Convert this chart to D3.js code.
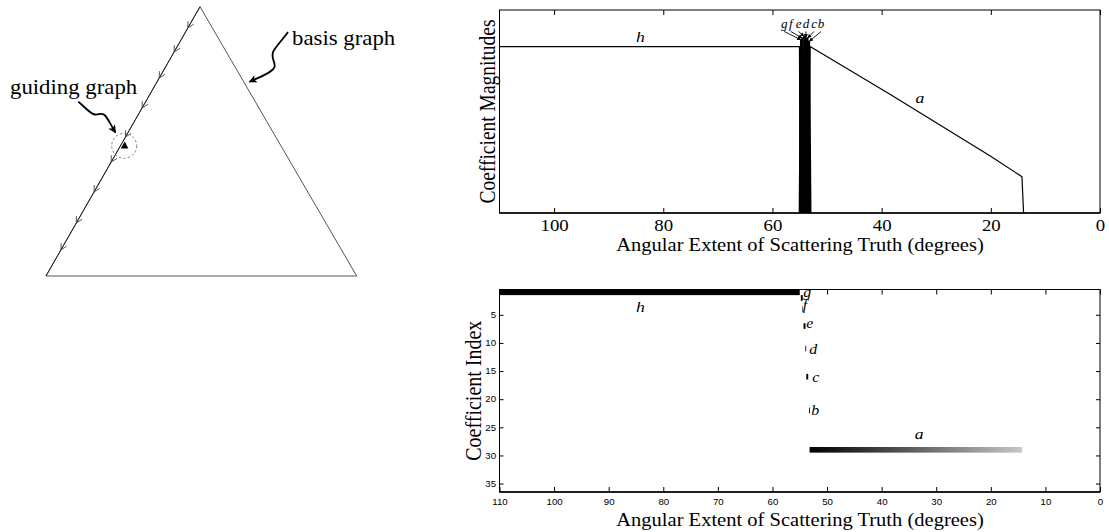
<!DOCTYPE html>
<html><head><meta charset="utf-8">
<script src="https://cdn.jsdelivr.net/npm/d3@7"></script>
<style>body{margin:0;background:#fff}svg{display:block}</style>
</head><body>
<svg id="c" width="1109" height="532"></svg>
<script>
// ---------------- DATA ----------------
const topXTicks = [100, 80, 60, 40, 20, 0];
const bottomXTicks = [110, 100, 90, 80, 70, 60, 50, 40, 30, 20, 10, 0];
const bottomYTicks = [5, 10, 15, 20, 25, 30, 35];

const coefNames = ['h', 'g', 'f', 'e', 'd', 'c', 'b', 'a'];
const coefIndex = [1, 2, 4, 7, 11, 16, 22, 29];

// magnitude curves: angle (deg) / magnitude
const hAngles = [110, 55.05, 54.95];  const hMags = [1.0, 1.0, 0];
const gAngles = [55.0, 54.75, 54.45]; const gMags = [0, 1.04, 0];
const fAngles = [54.8, 54.5, 54.2];   const fMags = [0, 1.05, 0];
const eAngles = [54.5, 54.15, 53.85]; const eMags = [0, 1.06, 0];
const dAngles = [54.2, 53.9, 53.6];   const dMags = [0, 1.05, 0];
const cAngles = [53.9, 53.6, 53.3];   const cMags = [0, 1.05, 0];
const bAngles = [53.55, 53.3, 53.05]; const bMags = [0, 1.03, 0];
const aAngles = [53.35, 53.1, 38.4, 20.1, 14.3, 14.0];
const aMags   = [0, 1.0, 0.712, 0.343, 0.218, 0];

// active angular extent in the coefficient-index image
const activeFrom  = [110, 54.8, 54.55, 54.3, 54.0, 53.8, 53.3, 53.2];
const activeTo    = [55.0, 54.45, 54.4, 53.95, 53.82, 53.45, 53.12, 14.3];
const activeShade = [1.0, 1.0, 0.7, 1.0, 0.85, 1.0, 0.85, null];

// label positions (data units)
const topLabelAngle = [84.2, 57.84, 56.65, 55.22, 53.85, 52.38, 51.1, 32.98];
const topLabelMag   = [1.03, 1.109, 1.109, 1.109, 1.109, 1.109, 1.109, 0.663];
const botLabelAngle = [84.2, 54.36, 54.45, 53.81, 53.26, 52.71, 52.89, 33.13];
const botLabelIndex = [4.5, 1.83, 4.14, 7.34, 11.88, 16.86, 22.81, 27.08];

// ---------------- DRAW ----------------
const SX = 1.14; // horizontal stretch of the original figure's text
const serif = "'Liberation Serif','Times New Roman',serif";
const sans = "'Liberation Sans',Arial,sans-serif";
const svg = d3.select('#c');
const grey = v => { const c = Math.round(255 * Math.max(0, Math.min(1, v))); return d3.rgb(c, c, c).toString(); };

function stext(g, x, y, str, opts) {
  const t = g.append('text')
    .attr('transform', `translate(${x},${y}) scale(${SX},1)` + (opts.rotate ? ` rotate(${opts.rotate})` : ''))
    .attr('font-family', opts.family || serif)
    .attr('font-size', opts.size)
    .attr('text-anchor', opts.anchor || 'start')
    .attr('fill', '#000')
    .text(str);
  if (opts.italic) t.attr('font-style', 'italic');
  return t;
}

// ---- defs
const defs = svg.append('defs');
defs.append('marker').attr('id', 'ah').attr('viewBox', '0 0 10 10')
  .attr('refX', 9).attr('refY', 5).attr('markerWidth', 10).attr('markerHeight', 8)
  .attr('markerUnits', 'userSpaceOnUse').attr('orient', 'auto')
  .append('path').attr('d', 'M0,0 L10,5 L0,10 L2.5,5 Z').attr('fill', '#000');
defs.append('marker').attr('id', 'sah').attr('viewBox', '0 0 10 10')
  .attr('refX', 9).attr('refY', 5).attr('markerWidth', 5).attr('markerHeight', 4)
  .attr('markerUnits', 'userSpaceOnUse').attr('orient', 'auto')
  .append('path').attr('d', 'M0,0 L10,5 L0,10 Z').attr('fill', '#000');

// ---- left schematic
const tri = [[200, 6.7], [46, 276], [356.7, 276]];
const chevronT = [0.079, 0.168, 0.265, 0.376, 0.484, 0.577, 0.688, 0.803, 0.903];
const diag = svg.append('g');
diag.append('path').attr('d', d3.line()(tri) + 'Z')
  .attr('fill', 'none').attr('stroke', '#555').attr('stroke-width', 1);
diag.append('line').attr('x1', tri[0][0]).attr('y1', tri[0][1]).attr('x2', tri[1][0]).attr('y2', tri[1][1])
  .attr('stroke', '#222').attr('stroke-width', 1);
{
  const dx = tri[1][0] - tri[0][0], dy = tri[1][1] - tri[0][1];
  const L = Math.hypot(dx, dy), ux = dx / L, uy = dy / L, nx = -uy, ny = ux;
  chevronT.forEach(t => {
    const px = tri[0][0] + dx * t, py = tri[0][1] + dy * t;
    diag.append('path')
      .attr('d', `M${px - 6 * ux + 3.2 * nx},${py - 6 * uy + 3.2 * ny} L${px},${py} L${px - 6 * ux - 3.2 * nx},${py - 6 * uy - 3.2 * ny}`)
      .attr('fill', 'none').attr('stroke', '#444').attr('stroke-width', 0.9);
  });
}
diag.append('circle').attr('cx', 124.2).attr('cy', 145.8).attr('r', 12.5)
  .attr('fill', 'none').attr('stroke', '#666').attr('stroke-width', 0.8).attr('stroke-dasharray', '2.5,2');
diag.append('path').attr('d', 'M120.7,148.5 L128.3,148.5 L124.8,141.5 Z').attr('fill', '#000');
diag.append('path')
  .attr('d', 'M78.3,101.7 C84,106 90,114 95,114.5 C99,115 101,112.5 104.5,115 C108,118 110,124 115.5,132.5')
  .attr('fill', 'none').attr('stroke', '#000').attr('stroke-width', 1.8).attr('marker-end', 'url(#ah)');
diag.append('path')
  .attr('d', 'M288,32 C284,38 277,45 273.5,51 C270,58 276,62 274.5,67 C273,72 262,76 249.5,81.8')
  .attr('fill', 'none').attr('stroke', '#000').attr('stroke-width', 1.8).attr('marker-end', 'url(#ah)');
stext(diag, 10, 94, 'guiding graph', { size: 20 });
stext(diag, 292, 45, 'basis graph', { size: 20 });

// ---- top chart
const xT = d3.scaleLinear().domain([110, 0]).range([499.5, 1100]);
const yT = d3.scaleLinear().domain([0, 1.22]).range([213, 10]);
const topG = svg.append('g');

const series = [
  [hAngles, hMags], [gAngles, gMags], [fAngles, fMags], [eAngles, eMags],
  [dAngles, dMags], [cAngles, cMags], [bAngles, bMags], [aAngles, aMags]
];
const line = d3.line().x(d => xT(d[0])).y(d => yT(d[1]));
series.forEach(([an, mg], i) => {
  const pts = an.map((a, k) => [a, mg[k]]);
  const isSpike = i >= 1 && i <= 6;
  topG.append('path').attr('d', line(pts))
    .attr('fill', 'none').attr('stroke', '#000').attr('stroke-width', isSpike ? 2.2 : 1.2)
    .attr('stroke-linejoin', 'round');
});

const axTB = topG.append('g').attr('transform', 'translate(0,213)')
  .call(d3.axisBottom(xT).tickValues(topXTicks).tickSize(-5).tickPadding(6));
const axTT = topG.append('g').attr('transform', 'translate(0,10)')
  .call(d3.axisTop(xT).tickValues(topXTicks).tickSize(-5).tickFormat(''));
[axTB, axTT].forEach(a => { a.select('.domain').remove(); a.selectAll('line').attr('stroke', '#000'); });
axTB.selectAll('text').attr('font-family', serif).attr('font-size', 16.5).attr('fill', '#000')
  .attr('transform', `scale(${SX},1)`);
topG.append('rect').attr('x', 499.5).attr('y', 10).attr('width', 600.5).attr('height', 203)
  .attr('fill', 'none').attr('stroke', '#000').attr('stroke-width', 1);
topG.append('line').attr('x1', 499.5).attr('x2', 1100).attr('y1', 213).attr('y2', 213)
  .attr('stroke', '#000').attr('stroke-width', 1.6);

// labels and arrows
coefNames.forEach((n, i) => {
  const small = i >= 1 && i <= 6;
  stext(topG, xT(topLabelAngle[i]), yT(topLabelMag[i]), n, { size: small ? 11.5 : 15.5, italic: true, anchor: 'middle' });
});
for (let i = 1; i <= 6; i++) {
  const [an, mg] = series[i];
  const pk = mg.indexOf(d3.max(mg));
  const x1 = xT(topLabelAngle[i]), y1 = yT(topLabelMag[i]) + 3;
  const x2 = xT(an[pk]), y2 = yT(mg[pk]);
  const L = Math.hypot(x2 - x1, y2 - y1);
  topG.append('line').attr('x1', x1).attr('y1', y1)
    .attr('x2', x2 - (x2 - x1) / L * 0.5).attr('y2', y2 - (y2 - y1) / L * 0.5)
    .attr('stroke', '#000').attr('stroke-width', 0.9).attr('marker-end', 'url(#sah)');
}
stext(topG, 800, 251, 'Angular Extent of Scattering Truth (degrees)', { size: 18, anchor: 'middle' });
stext(topG, 495, 111.5, 'Coefficient Magnitudes', { size: 19.5, anchor: 'middle', rotate: -90 });

// ---- bottom chart
const xB = d3.scaleLinear().domain([110, 0]).range([499.5, 1100]);
const yB = d3.scaleLinear().domain([0.5, 36.5]).range([289.5, 492]);
const botG = svg.append('g');

// gradient for coefficient a, built from its magnitude series
const ai = coefNames.indexOf('a');
const gx0 = xB(activeFrom[ai]), gx1 = xB(activeTo[ai]);
const grad = defs.append('linearGradient').attr('id', 'ga')
  .attr('gradientUnits', 'userSpaceOnUse').attr('x1', gx0).attr('x2', gx1).attr('y1', 0).attr('y2', 0);
aAngles.forEach((a, i) => {
  if (aMags[i] <= 0) return;
  const off = Math.max(0, Math.min(1, (xB(a) - gx0) / (gx1 - gx0)));
  grad.append('stop').attr('offset', off).attr('stop-color', grey(1 - aMags[i]));
});

coefNames.forEach((n, i) => {
  const r = coefIndex[i];
  const x0 = xB(activeFrom[i]), x1 = xB(activeTo[i]);
  const fill = activeShade[i] == null ? 'url(#ga)' : grey(1 - activeShade[i]);
  botG.append('rect').attr('x', x0).attr('width', x1 - x0)
    .attr('y', yB(r - 0.5)).attr('height', yB(r + 0.5) - yB(r - 0.5)).attr('fill', fill);
});

const axBB = botG.append('g').attr('transform', 'translate(0,492)')
  .call(d3.axisBottom(xB).tickValues(bottomXTicks).tickSize(-5).tickPadding(7));
const axBT = botG.append('g').attr('transform', 'translate(0,289.5)')
  .call(d3.axisTop(xB).tickValues(bottomXTicks).tickSize(-5).tickFormat(''));
const axBL = botG.append('g').attr('transform', 'translate(499.5,0)')
  .call(d3.axisLeft(yB).tickValues(bottomYTicks).tickSize(-4).tickPadding(3));
const axBR = botG.append('g').attr('transform', 'translate(1100,0)')
  .call(d3.axisRight(yB).tickValues(bottomYTicks).tickSize(-4).tickFormat(''));
[axBB, axBT, axBL, axBR].forEach(a => { a.select('.domain').remove(); a.selectAll('line').attr('stroke', '#000'); });
[axBB, axBL].forEach(a => a.selectAll('text').attr('font-family', sans).attr('font-size', 8.5).attr('fill', '#000')
  .attr('transform', `scale(${SX},1)`));
botG.append('rect').attr('x', 499.5).attr('y', 289.5).attr('width', 600.5).attr('height', 202.5)
  .attr('fill', 'none').attr('stroke', '#000').attr('stroke-width', 1);
botG.append('line').attr('x1', 499.5).attr('x2', 1100).attr('y1', 492).attr('y2', 492)
  .attr('stroke', '#000').attr('stroke-width', 1.7);

coefNames.forEach((n, i) => {
  const mid = (n === 'h' || n === 'a');
  stext(botG, xB(botLabelAngle[i]), yB(botLabelIndex[i]), n, { size: mid ? 15.5 : 14, italic: true, anchor: mid ? 'middle' : 'start' });
});
stext(botG, 800, 526, 'Angular Extent of Scattering Truth (degrees)', { size: 18, anchor: 'middle' });
stext(botG, 481, 390.7, 'Coefficient Index', { size: 20, anchor: 'middle', rotate: -90 });
</script>
</body></html>
